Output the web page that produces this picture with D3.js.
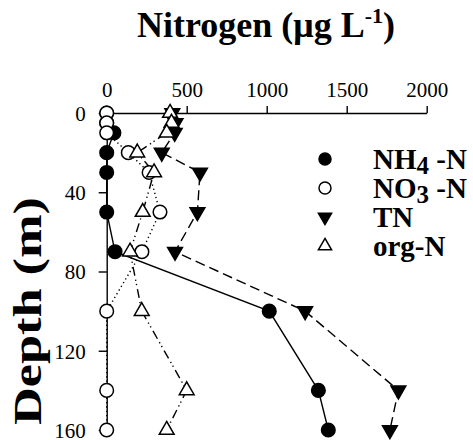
<!DOCTYPE html>
<html>
<head>
<meta charset="utf-8">
<script src="https://cdn.jsdelivr.net/npm/d3@7"></script>
<style>
  body { margin: 0; background: #fff; }
  svg { font-family: 'Liberation Serif', 'Times New Roman', serif; }
</style>
</head>
<body>
<div id="chart"></div>
<script>
// depths (m) and nitrogen concentrations (ug/L)
const depths = [0, 5, 10, 20, 30, 50, 70, 100, 140, 160]
const nh4  = [0, 0, 45, 0, 0, 0, 52, 1016, 1323, 1385]
const no3  = [0, 0, 0, 135, 265, 333, 220, 0, 0, 0]
const tn   = [410, 430, 425, 344, 583, 567, 427, 1240, 1823, 1770]
const orgN = [396, 405, 375, 191, 296, 225, 146, 219, 500, 375]

const xTicks = [0, 500, 1000, 1500, 2000]
const yTicks = [0, 40, 80, 120, 160]

const width = 473, height = 440

const svg = d3.select('#chart').append('svg')
  .attr('width', width)
  .attr('height', height)

const x = d3.scaleLinear().domain([0, 2000]).range([106.7, 426.7])
const y = d3.scaleLinear().domain([0, 160]).range([113, 430])

// series: values, marker, line style
const series = [
  {name: 'NH4', values: nh4, shape: 'circle', fill: '#000', dash: null},
  {name: 'NO3', values: no3, shape: 'circle', fill: '#fff', dash: '1.3,3'},
  {name: 'TN', values: tn, shape: 'down', fill: '#000', dash: '10,5'},
  {name: 'org', values: orgN, shape: 'up', fill: '#fff', dash: '9,4,1.3,3,1.3,4'}
]

// axes
const xAxis = svg.append('g')
  .attr('transform', 'translate(0,' + y(0) + ')')
  .call(d3.axisTop(x).tickValues(xTicks).tickFormat(d3.format('d'))
    .tickSize(7).tickSizeOuter(0).tickPadding(9))
const yAxis = svg.append('g')
  .attr('transform', 'translate(' + x(0) + ',0)')
  .call(d3.axisLeft(y).tickValues(yTicks).tickSize(8).tickSizeOuter(0).tickPadding(13))

;[xAxis, yAxis].forEach(function(a) {
  a.select('.domain').attr('stroke', '#000').attr('stroke-width', 1.4)
  a.selectAll('.tick line').attr('stroke', '#000').attr('stroke-width', 1.4)
  a.selectAll('.tick text')
    .attr('fill', '#000')
    .style('font-family', "'Liberation Serif', 'Times New Roman', serif")
    .style('font-size', '21px')
})
yAxis.selectAll('.tick text').attr('dy', '0.35em')

// lines
const line = d3.line()
  .x((d) => x(d[0]))
  .y((d) => y(d[1]))

series.forEach(function(s) {
  svg.append('path')
    .datum(s.values.map((v, i) => [v, depths[i]]))
    .attr('fill', 'none')
    .attr('stroke', '#000')
    .attr('stroke-width', 1.4)
    .attr('stroke-dasharray', s.dash)
    .attr('d', line)
})

// markers
function marker(sel, s, r, triSize) {
  if (s.shape === 'circle') {
    sel.append('circle').attr('r', r)
  } else {
    sel.append('path')
      .attr('d', d3.symbol().type(d3.symbolTriangle).size(triSize))
      .attr('transform', s.shape === 'down' ? 'rotate(180)' : null)
  }
  sel.selectAll('circle, path')
    .attr('fill', s.fill)
    .attr('stroke', '#000')
    .attr('stroke-width', 1.5)
}

series.forEach(function(s) {
  svg.append('g').selectAll('g')
    .data(s.values.map((v, i) => [v, depths[i]]))
    .enter().append('g')
      .attr('transform', (d) => 'translate(' + x(d[0]) + ',' + y(d[1]) + ')')
      .each(function() { marker(d3.select(this), s, 6.8, 95) })
})

// legend
const legendRows = [
  {s: series[0], main: 'NH', sub: '4', rest: ' -N'},
  {s: series[1], main: 'NO', sub: '3', rest: ' -N'},
  {s: series[2], main: 'TN', sub: null, rest: ''},
  {s: series[3], main: 'org-N', sub: null, rest: ''}
]
const legend = svg.append('g')
legendRows.forEach(function(row, i) {
  const g = legend.append('g').attr('transform', 'translate(325,' + (159 + i * 29) + ')')
  marker(g, row.s, 6, 75)
  const t = g.append('text')
    .attr('x', 48)
    .attr('y', 10)
    .style('font-size', '29px')
    .style('font-weight', 'bold')
  t.append('tspan').text(row.main)
  if (row.sub) {
    t.append('tspan').attr('dy', 5).style('font-size', '25px').text(row.sub)
    t.append('tspan').attr('dy', -5).text(row.rest)
  }
})

// title
const title = svg.append('text')
  .attr('x', 266)
  .attr('y', 37)
  .attr('text-anchor', 'middle')
  .style('font-size', '36px')
  .style('font-weight', 'bold')
title.append('tspan').text('Nitrogen (\u03bcg L')
title.append('tspan').attr('dy', -14).style('font-size', '22px').text('-1')
title.append('tspan').attr('dy', 14).text(')')

// y axis title
svg.append('text')
  .attr('transform', 'translate(41,311) rotate(-90)')
  .attr('text-anchor', 'middle')
  .attr('textLength', 228)
  .attr('lengthAdjust', 'spacingAndGlyphs')
  .style('font-size', '40px')
  .style('font-weight', 'bold')
  .text('Depth (m)')
</script>
</body>
</html>
